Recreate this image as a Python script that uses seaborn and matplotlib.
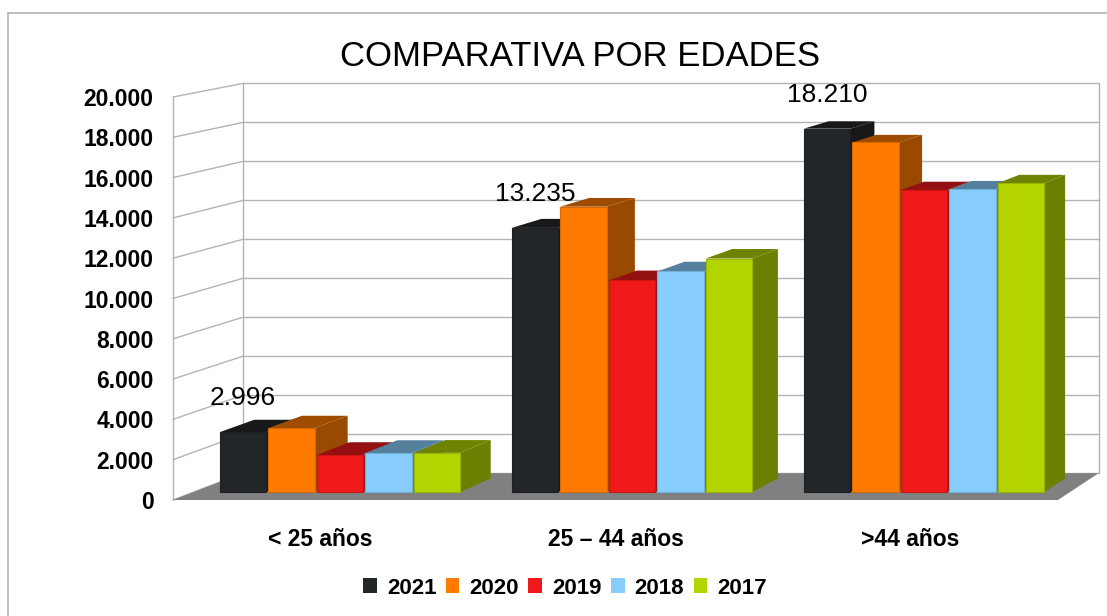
import matplotlib
matplotlib.use("Agg")
import matplotlib.pyplot as plt
import matplotlib.colors as mcolors
from matplotlib.transforms import Affine2D, IdentityTransform
from matplotlib.patches import Polygon
from matplotlib.lines import Line2D
import numpy as np
import pandas as pd
import seaborn as sns

# data
grupos = ["< 25 años", "25 – 44 años", ">44 años"]
anios = ["2021", "2020", "2019", "2018", "2017"]
v2021 = [2996, 13235, 18210]
v2020 = [3200, 14300, 17520]
v2019 = [1850, 10600, 15130]
v2018 = [1950, 11050, 15170]
v2017 = [1960, 11700, 15480]
colores = ["#232629", "#ff7a00", "#f01919", "#87cdfd", "#b4d400"]
yticks = list(range(0, 20001, 2000))

df = pd.DataFrame({
    "grupo": grupos * 5,
    "valor": v2021 + v2020 + v2019 + v2018 + v2017,
    "anio": [a for a in anios for _ in grupos],
})

sns.set_style("white")
plt.rcParams["font.family"] = ["Liberation Sans", "DejaVu Sans"]
plt.rcParams["text.color"] = "black"

fig = plt.figure(figsize=(11.07, 6.16), dpi=100)
ax = fig.add_axes([173 / 1107, 116 / 616, 885 / 1107, 403 / 616])
ax.patch.set_alpha(0)

sns.barplot(data=df, x="grupo", y="valor", hue="anio", palette=colores,
            width=0.83, gap=0.04, saturation=1, ax=ax, linewidth=0)

ax.set_xlim(-0.5, 2.5)
ax.set_ylim(0, 20000)
ax.set_autoscale_on(False)

# fake perspective: points shrink toward a vanishing point (display px)
VX, VY, S = 2288, 929, 0.967


def depth(d):
    k = 1 - d * (1 - S)
    return Affine2D().translate(-VX, -VY).scale(k).translate(VX, VY)


T0 = ax.transData
TB = ax.transData + depth(1)
grid_c = "#b3b3b3"

# back wall + left wall grid
for y in yticks:
    ax.plot([-0.5, 2.5], [y, y], color=grid_c, lw=1, transform=TB, clip_on=False, zorder=0.5)
    p0 = T0.transform((-0.5, y))
    p1 = TB.transform((-0.5, y))
    ax.add_line(Line2D([p0[0], p1[0]], [p0[1], p1[1]], color=grid_c, lw=1,
                       transform=IdentityTransform(), clip_on=False, zorder=0.5))
for x in [-0.5, 2.5]:
    ax.plot([x, x], [0, 20000], color=grid_c, lw=1, transform=TB, clip_on=False, zorder=0.5)
ax.plot([-0.5, -0.5], [0, 20000], color=grid_c, lw=1, transform=T0, clip_on=False, zorder=0.5)

# floor
fl = [T0.transform((-0.5, 0)), T0.transform((2.5, 0)), TB.transform((2.5, 0)), TB.transform((-0.5, 0))]
ax.add_patch(Polygon(fl, closed=True, facecolor="#808080", edgecolor="none",
                     transform=IdentityTransform(), clip_on=False, zorder=0.6))

# bars with depth
D1, D2 = 0.3, 0.8
T1 = ax.transData + depth(D1)
T2 = ax.transData + depth(D2)


def oscuro(c, f):
    r, g, b = mcolors.to_rgb(c)
    return (r * f, g * f, b * f)


for i, cont in enumerate(ax.containers):
    c = colores[i]
    for j, bar in enumerate(cont):
        x0, w, h = bar.get_x(), bar.get_width(), bar.get_height()
        pts = [(x0, 0), (x0 + w, 0), (x0 + w, h), (x0, h)]
        f = T1.transform(pts)
        b = T2.transform(pts)
        z = 3 + j * 5 + i
        ax.add_patch(Polygon([f[1], b[1], b[2], f[2]], closed=True, facecolor=oscuro(c, 0.6),
                             edgecolor="none", transform=IdentityTransform(), clip_on=False, zorder=z - 0.01))
        ax.add_patch(Polygon([f[3], f[2], b[2], b[3]], closed=True, facecolor=oscuro(c, 0.62),
                             edgecolor="none", transform=IdentityTransform(), clip_on=False, zorder=z - 0.01))
        bar.set_transform(T1)
        bar.set_zorder(z)
        bar.set_clip_on(False)
        bar.set_edgecolor(oscuro(c, 0.85))
        bar.set_linewidth(0.8)

# value labels on the 2021 bars
for bar, v in zip(ax.containers[0], v2021):
    cx = bar.get_x() + bar.get_width() / 2
    ax.annotate(f"{v:,}".replace(",", "."), xy=(cx, bar.get_height()), xycoords=T1,
                xytext=(0, 34), textcoords="offset pixels", ha="center", va="center",
                fontsize=19, color="black", zorder=30)

ax.set_yticks(yticks)
ax.set_yticklabels([f"{t:,}".replace(",", ".") for t in yticks], fontsize=16.5, fontweight="bold")
ax.set_xticks(range(len(grupos)))
ax.set_xticklabels(grupos, fontsize=16.5, fontweight="bold")
ax.tick_params(axis="y", length=0, pad=14, labelcolor="black")
ax.tick_params(axis="x", length=0, pad=20, labelcolor="black")
ax.set_xlabel("")
ax.set_ylabel("")
for s in ax.spines.values():
    s.set_visible(False)

handles, labels = ax.get_legend_handles_labels()
leg = ax.legend(handles, labels, loc="center", bbox_to_anchor=(565 / 1107, 1 - 588 / 616),
                bbox_transform=fig.transFigure, ncol=5, frameon=False,
                prop={"size": 16, "weight": "bold"}, handlelength=0.62, handleheight=0.62,
                handletextpad=0.45, columnspacing=0.42)
for t in leg.get_texts():
    t.set_color("black")

fig.text(580 / 1107, 1 - 56 / 616, "COMPARATIVA POR EDADES", fontsize=25,
         ha="center", va="center", color="black")

# chart frame
fig.add_artist(Line2D([8 / 1107, 8 / 1107], [0, 1 - 13 / 616], color="#b3b3b3", lw=1.2,
                      transform=fig.transFigure))
fig.add_artist(Line2D([8 / 1107, 1], [1 - 13 / 616, 1 - 13 / 616], color="#b3b3b3", lw=1.2,
                      transform=fig.transFigure))

fig.savefig("out.png", dpi=100)
